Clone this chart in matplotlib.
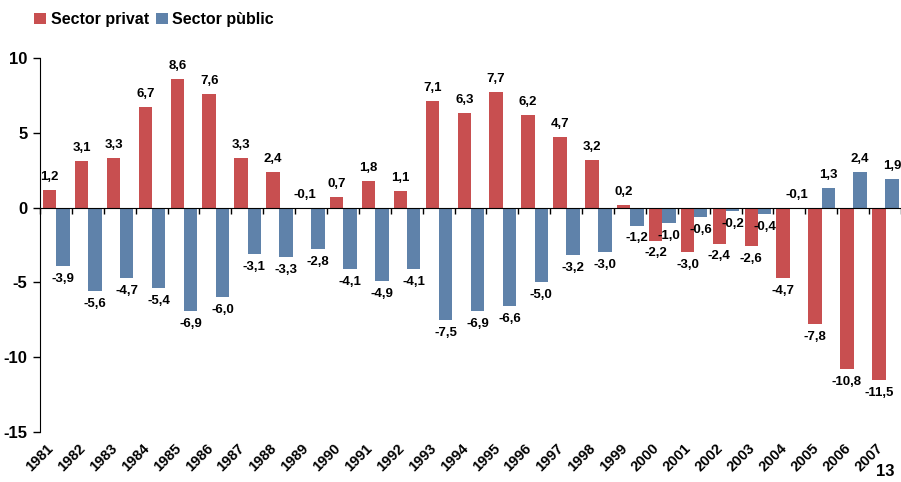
import matplotlib.pyplot as plt
import numpy as np

plt.rcParams['font.family'] = ['Liberation Sans', 'DejaVu Sans']
plt.rcParams['font.weight'] = 'bold'

# dades
anys = [str(a) for a in range(1981, 2008)]
privat = [1.2, 3.1, 3.3, 6.7, 8.6, 7.6, 3.3, 2.4, -0.1, 0.7, 1.8, 1.1, 7.1, 6.3,
          7.7, 6.2, 4.7, 3.2, 0.2, -2.2, -3.0, -2.4, -2.6, -4.7, -7.8, -10.8, -11.5]
public = [-3.9, -5.6, -4.7, -5.4, -6.9, -6.0, -3.1, -3.3, -2.8, -4.1, -4.9, -4.1, -7.5, -6.9,
          -6.6, -5.0, -3.2, -3.0, -1.2, -1.0, -0.6, -0.2, -0.4, -0.1, 1.3, 2.4, 1.9]

vermell = '#C84F50'
blau = '#5F82AA'

fig = plt.figure(figsize=(9.01, 4.82), dpi=100)
ax = fig.add_axes([40 / 901, 50 / 482, 861 / 901, 374 / 482])

x = np.arange(len(anys))
w = 0.42
b1 = ax.bar(x - 0.195, privat, w, color=vermell, label='Sector privat')
b2 = ax.bar(x + 0.22, public, w, color=blau, label='Sector pùblic')

def etiqueta(xp, v):
    txt = f'{v:.1f}'.replace('.', ',')
    if v >= 0 or abs(v) < 0.15:
        ax.annotate(txt, (xp, max(v, 0)), xytext=(0, 5), textcoords='offset points',
                    ha='center', va='bottom', fontsize=9.5, fontweight='bold')
    else:
        ax.annotate(txt, (xp, v), xytext=(0, -5), textcoords='offset points',
                    ha='center', va='top', fontsize=9.5, fontweight='bold')

for i in range(len(anys)):
    etiqueta(x[i] - 0.195, privat[i])
    etiqueta(x[i] + 0.22, public[i])

ax.set_xlim(-0.5, len(anys) - 0.5)
ax.set_ylim(-15, 10)
ax.set_yticks([-15, -10, -5, 0, 5, 10])
ax.set_yticklabels(['-15', '-10', '-5', '0', '5', '10'], fontsize=12, fontweight='bold')
ax.tick_params(axis='y', length=5, width=1, pad=4)

ax.spines['top'].set_visible(False)
ax.spines['right'].set_visible(False)
ax.spines['bottom'].set_position(('data', 0))
ax.set_xticks(np.arange(len(anys) + 1) - 0.5)
ax.set_xticklabels([])
ax.tick_params(axis='x', length=4, width=1)

for i, a in enumerate(anys):
    ax.text(x[i] - 0.3, -0.025, a, transform=ax.get_xaxis_transform(), rotation=45,
            rotation_mode='anchor', ha='right', va='top', fontsize=10.5, fontweight='bold')

fig.legend(handles=[b1, b2], loc='upper left', bbox_to_anchor=(20 / 901, 1.005), ncol=2,
           frameon=False, handlelength=0.75, handleheight=0.75, handletextpad=0.3,
           columnspacing=0.4, prop={'size': 11.5, 'weight': 'bold'})

fig.text(885 / 901, 0.022, '13', ha='center', va='center', fontsize=12, fontweight='bold')

fig.savefig('out.png', dpi=100)
